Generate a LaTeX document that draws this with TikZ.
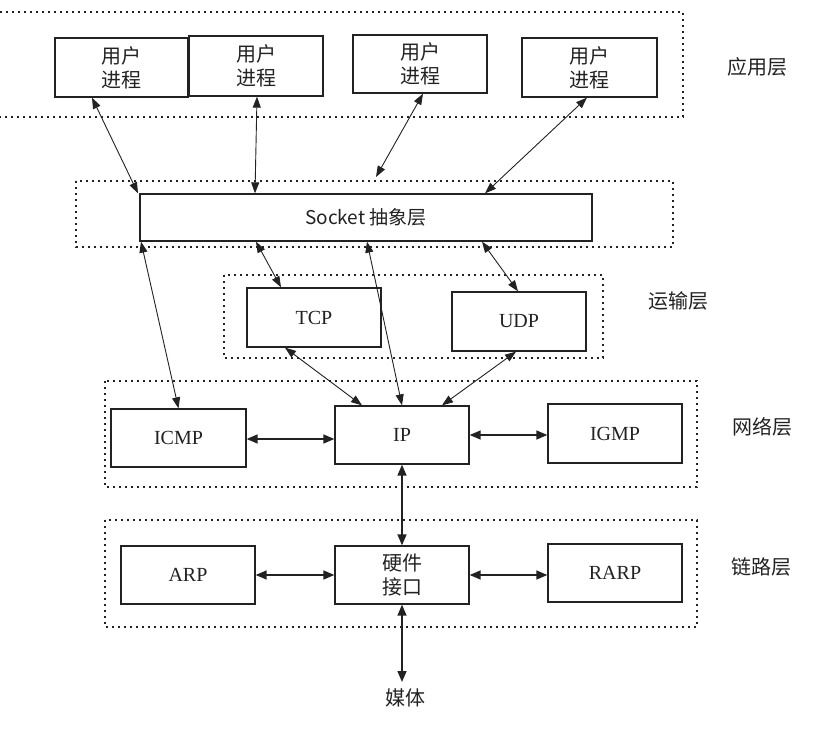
\documentclass[tikz,border=0pt]{standalone}
\usepackage{fontspec}
\setmainfont{Liberation Serif}
\newfontfamily\cjk{Noto Sans CJK SC}
\usetikzlibrary{arrows.meta,calc}
\definecolor{ink}{HTML}{222222}
\tikzset{
  blk/.style={draw=ink, line width=1.3pt, fill=white, inner sep=0pt, text=ink},
  cjkbox/.style={blk, font=\cjk\fontsize{20}{24}\selectfont, align=center},
  latbox/.style={blk, font=\fontsize{20}{24}\selectfont},
  layerbox/.style={draw=ink, line width=1.2pt, dash pattern=on 2.4pt off 3.6pt},
  layerlabel/.style={font=\cjk\fontsize{20}{24}\selectfont, text=ink, inner sep=0pt},
  thin/.style={draw=ink, line width=0.9pt, {Triangle[length=11pt,width=8pt]}-{Triangle[length=11pt,width=8pt]}},
  thick/.style={draw=ink, line width=1.5pt, {Triangle[length=11pt,width=9pt]}-{Triangle[length=11pt,width=9pt]}}
}
\begin{document}
\begin{tikzpicture}[x=1pt,y=-1pt]
\useasboundingbox (0,0) rectangle (840,741);
% layer frames
\draw[layerbox] (-10,12) rectangle (683,117);
\draw[layerbox] (76,181) rectangle (673,247);
\draw[layerbox] (224,275) rectangle (603,358);
\draw[layerbox] (105,381) rectangle (697,487);
\draw[layerbox] (105,520) rectangle (697,627);
% application layer
\node[cjkbox, minimum width=133pt, minimum height=59pt] (u1) at (121.5,67.5) {用户\\进程};
\node[cjkbox, minimum width=134pt, minimum height=60pt] (u2) at (256,66) {用户\\进程};
\node[cjkbox, minimum width=134pt, minimum height=58pt] (u3) at (420,64) {用户\\进程};
\node[cjkbox, minimum width=135pt, minimum height=59pt] (u4) at (589.5,67.5) {用户\\进程};
\node[layerlabel] (lapp) at (757,67) {应用层};
% socket
\node[blk, font=\cjk\fontsize{19}{22}\selectfont, minimum width=452pt, minimum height=47pt] (sock) at (366,217.5) {Socket 抽象层};
% transport
\node[latbox, minimum width=134pt, minimum height=59pt] (tcp) at (314,317.5) {TCP};
\node[latbox, minimum width=134pt, minimum height=59pt] (udp) at (519,321.5) {UDP};
\node[layerlabel] (ltr) at (678,301) {运输层};
% network
\node[latbox, minimum width=135pt, minimum height=58pt] (icmp) at (178.5,438) {ICMP};
\node[latbox, minimum width=134pt, minimum height=58pt] (ip) at (402,435) {IP};
\node[latbox, minimum width=134pt, minimum height=59pt] (igmp) at (615,433.5) {IGMP};
\node[layerlabel] (lnet) at (762,427) {网络层};
% link
\node[latbox, minimum width=134pt, minimum height=58pt] (arp) at (188,575) {ARP};
\node[cjkbox, minimum width=134pt, minimum height=58pt] (hw) at (402,575) {硬件\\接口};
\node[latbox, minimum width=134pt, minimum height=58pt] (rarp) at (615,573) {RARP};
\node[layerlabel] (llink) at (761,567) {链路层};
% media
\coordinate (med) at (402,682);
\coordinate (s3) at (376,177);
\node[layerlabel] (media) at (405,698) {媒体};
% app <-> socket
\draw[thin] ([xshift=-29.5pt]u1.south) -- ([xshift=-228pt]sock.north);
\draw[thin] ([xshift=1pt]u2.south) -- ([xshift=-111pt]sock.north);
\draw[thin] ([xshift=3pt]u3.south) -- (s3);
\draw[thin] ([xshift=-2.5pt]u4.south) -- ([xshift=119pt]sock.north);
% socket <-> lower
\draw[thin] ([xshift=-225pt]sock.south) -- (icmp.north);
\draw[thin] ([xshift=-110pt]sock.south) -- ([xshift=-33pt]tcp.north);
\draw[thin] ([xshift=1pt]sock.south) -- (ip.north);
\draw[thin] ([xshift=116pt]sock.south) -- ([xshift=-1pt]udp.north);
\draw[thin] ([xshift=-29pt]tcp.south) -- ([xshift=-40pt]ip.north);
\draw[thin] ([xshift=-3pt]udp.south) -- ([xshift=40pt]ip.north);
% horizontal
\draw[thick] ([yshift=-1pt]icmp.east) -- ([yshift=-1pt]icmp.east -| ip.west);
\draw[thick] (ip.east) -- (ip.east -| igmp.west);
\draw[thick] (arp.east) -- (arp.east -| hw.west);
\draw[thick] (hw.east) -- (hw.east -| rarp.west);
% vertical
\draw[thick] (ip.south) -- (hw.north);
\draw[thick] (hw.south) -- (med);
\end{tikzpicture}
\end{document}
